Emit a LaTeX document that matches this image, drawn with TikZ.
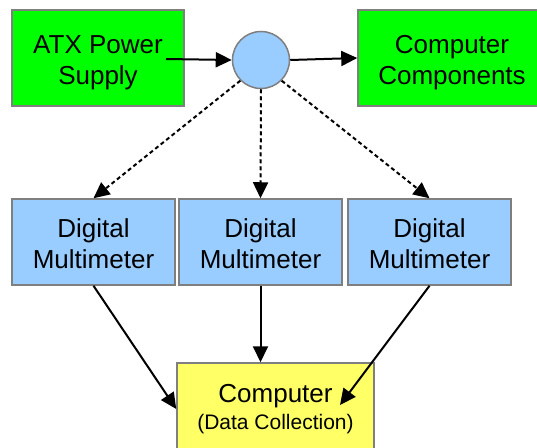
\documentclass[tikz,border=0pt]{standalone}
\usepackage{fontspec}
\setmainfont{Liberation Sans}
\usetikzlibrary{arrows.meta}
\definecolor{boxgreen}{HTML}{00FF00}
\definecolor{boxblue}{HTML}{99CCFF}
\definecolor{boxyellow}{HTML}{FFFF66}
\definecolor{bordergray}{HTML}{7F7F7F}
\tikzset{
  basebox/.style={draw=bordergray, line width=1.5pt, rectangle, inner sep=0pt, align=center,
    font=\fontsize{26}{31}\selectfont},
  greenbox/.style={basebox, fill=boxgreen},
  bluebox/.style={basebox, fill=boxblue, minimum width=163pt, minimum height=86pt},
  yellowbox/.style={basebox, fill=boxyellow, minimum width=197pt, minimum height=92pt},
  hub/.style={circle, draw=bordergray, line width=1.5pt, fill=boxblue, minimum size=57pt, inner sep=0pt},
  flow/.style={line width=2pt, -{Triangle[length=16pt,width=15pt]}},
  dflow/.style={line width=2pt, dash pattern=on 4pt off 3pt, -{Triangle[length=16pt,width=15pt]}}
}
\begin{document}
\begin{tikzpicture}[x=1pt,y=-1pt]
\useasboundingbox (0,0) rectangle (537,447);
\clip (0,0) rectangle (537,447);
\node[greenbox, minimum width=172pt, minimum height=96pt] (atx) at (98,58) {\rule{0pt}{26.5pt}ATX Power\\Supply};
\node[greenbox, minimum width=188pt, minimum height=96pt] (cc) at (452,58) {\rule{0pt}{26.5pt}Computer\\Components};
\node[hub] (hub) at (261,60) {};
\node[bluebox] (mm1) at (93.5,242) {\rule{0pt}{23pt}Digital\\Multimeter};
\node[bluebox] (mm2) at (260.5,242) {\rule{0pt}{23pt}Digital\\Multimeter};
\node[bluebox] (mm3) at (429.5,242) {\rule{0pt}{23pt}Digital\\Multimeter};
\node[yellowbox] (comp) at (275.5,409) {Computer\\[-4pt]{\fontsize{21}{25}\selectfont (Data Collection)}};
\coordinate (atxout) at (166,59);
\coordinate (compin) at (340,405);
\draw[flow] (atxout) -- (hub.west);
\draw[flow] (hub.east) -- (cc.west);
\draw[dflow] (hub.225) -- (mm1.north);
\draw[dflow] (hub.south) -- (mm2.north);
\draw[dflow] (hub.-45) -- (mm3.north);
\draw[flow] (mm1.south) -- (comp.west);
\draw[flow] (mm2.south) -- (mm2.south |- comp.north);
\draw[flow] (mm3.south) -- (compin);
\end{tikzpicture}
\end{document}
